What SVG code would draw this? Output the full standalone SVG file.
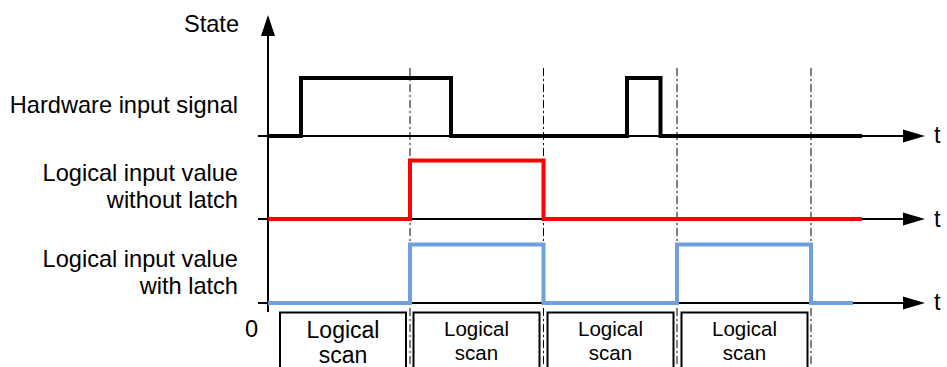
<svg xmlns="http://www.w3.org/2000/svg" width="947" height="367" viewBox="0 0 947 367">
<style>
text{font-family:"Liberation Sans",Arial,sans-serif;fill:#000}
.lbl{font-size:23.6px;text-anchor:end}
.t{font-size:23.6px}
.box{fill:#fff;stroke:#000;stroke-width:2}
.bx{text-anchor:middle}
.axis{stroke:#000;stroke-width:2;fill:none}
.grid{stroke:#000;stroke-width:1;fill:none;stroke-dasharray:8 3 2 3}
.sig{fill:none;stroke-width:4;stroke-linejoin:miter;stroke-linecap:butt}
.head{fill:#000}
</style>
<rect width="947" height="367" fill="#fff"/>
<g id="labels">
<text class="lbl" x="239" y="32">State</text>
<text class="lbl" x="238" y="113">Hardware input signal</text>
<text class="lbl" x="238" y="181">Logical input value</text>
<text class="lbl" x="238" y="208">without latch</text>
<text class="lbl" x="238" y="267">Logical input value</text>
<text class="lbl" x="238" y="294">with latch</text>
<text class="t" x="934" y="143">t</text>
<text class="t" x="934" y="226.5">t</text>
<text class="t" x="934" y="310">t</text>
<text class="t" x="245" y="336.5">0</text>
</g>
<g id="scan1"><rect class="box" x="280" y="312.5" width="126" height="60"/><text class="bx" x="343" y="337.5" font-size="23">Logical</text><text class="bx" x="343" y="363" font-size="23">scan</text></g>
<g id="scan2"><rect class="box" x="413.5" y="312.5" width="126" height="60"/><text class="bx" x="476.5" y="336" font-size="20.5">Logical</text><text class="bx" x="476.5" y="359.5" font-size="20.5">scan</text></g>
<g id="scan3"><rect class="box" x="547.5" y="312.5" width="126" height="60"/><text class="bx" x="610.5" y="336" font-size="20.5">Logical</text><text class="bx" x="610.5" y="359.5" font-size="20.5">scan</text></g>
<g id="scan4"><rect class="box" x="681.5" y="312.5" width="126" height="60"/><text class="bx" x="744.5" y="336" font-size="20.5">Logical</text><text class="bx" x="744.5" y="359.5" font-size="20.5">scan</text></g>
<g id="connectors">
<line class="grid" x1="410" y1="68" x2="410" y2="367"/>
<line class="grid" x1="543.5" y1="68" x2="543.5" y2="367"/>
<line class="grid" x1="677" y1="68" x2="677" y2="367"/>
<line class="grid" x1="811" y1="68" x2="811" y2="367"/>
<line class="axis" x1="268" y1="34" x2="268" y2="312"/>
<polygon class="head" points="268,15 261,36 275,36"/>
<line class="axis" x1="258" y1="136" x2="905" y2="136"/>
<line class="axis" x1="258" y1="219" x2="905" y2="219"/>
<line class="axis" x1="258" y1="303" x2="905" y2="303"/>
<polygon class="head" points="925,136 903,129.5 903,142.5"/>
<polygon class="head" points="925,219 903,212.5 903,225.5"/>
<polygon class="head" points="925,303 903,296.5 903,309.5"/>
<polyline class="sig" stroke="#000" points="268,136 301,136 301,78 451,78 451,136 627,136 627,78 660.5,78 660.5,136 862,136"/>
<polyline class="sig" stroke="#ff0000" points="268,219 410,219 410,160.5 543.5,160.5 543.5,219 862,219"/>
<polyline class="sig" stroke="#6f9fdc" points="268,303 410,303 410,244.5 543.5,244.5 543.5,303 677,303 677,244.5 811,244.5 811,303 853,303"/>
</g>
</svg>
